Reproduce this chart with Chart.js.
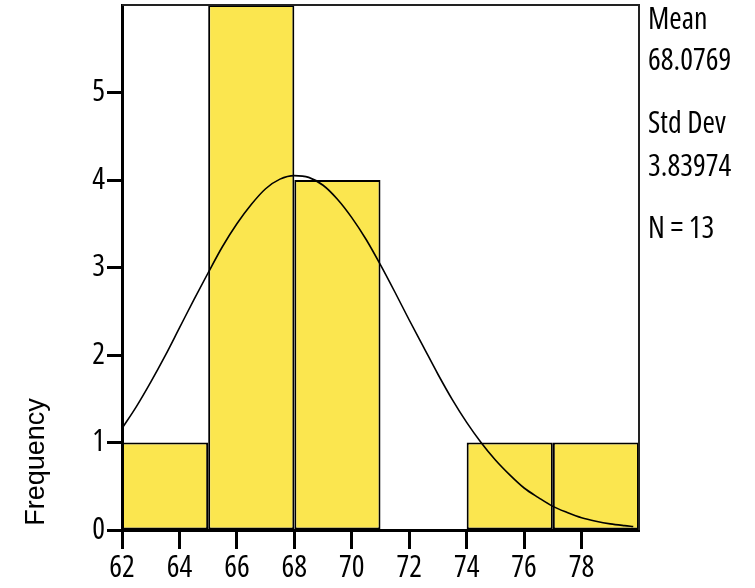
<!DOCTYPE html>
<html>
<head>
<meta charset="utf-8">
<script src="https://cdn.jsdelivr.net/npm/chart.js@4/dist/chart.umd.min.js"></script>
<style>
html,body{margin:0;padding:0;background:#fff;}
canvas{display:block;}
</style>
</head>
<body>
<canvas id="c" width="755" height="588"></canvas>
<script>
// ---- data ----
const binEdges = [62, 65, 68, 71, 74, 77, 80];
const binCounts = [1, 6, 4, 0, 1, 1];
const curveX = [62, 62.5, 63, 63.5, 64, 64.5, 65, 65.5, 66, 66.5, 67, 67.5, 68, 68.5, 69, 69.5, 70, 70.5, 71, 71.5, 72, 72.5, 73, 73.5, 74, 74.5, 75, 75.5, 76, 76.5, 77, 77.5, 78, 78.5, 79, 79.5, 79.8];
const curveY = [1.16, 1.41, 1.69, 1.99, 2.31, 2.63, 2.94, 3.24, 3.50, 3.72, 3.90, 4.01, 4.05, 4.03, 3.94, 3.78, 3.57, 3.32, 3.03, 2.72, 2.40, 2.09, 1.78, 1.49, 1.23, 1.00, 0.80, 0.63, 0.48, 0.37, 0.27, 0.20, 0.14, 0.10, 0.07, 0.05, 0.04];
const xTicks = [62, 64, 66, 68, 70, 72, 74, 76, 78];
const yTicks = [0, 1, 2, 3, 4, 5];
const statLabels = ["Mean", "68.0769", "Std Dev", "3.83974", "N = 13"];
const yTitle = "Frequency";

const barData = binCounts.map((c, i) => ({ x: (binEdges[i] + binEdges[i + 1]) / 2, y: c }));
const lineData = curveX.map((x, i) => ({ x: x, y: curveY[i] }));
const binWidth = binEdges[1] - binEdges[0];
const tickStep = xTicks[1] - xTicks[0];

const FAMILY = "'Open Sans', 'DejaVu Sans Condensed', sans-serif";
const TICKFONT = { family: FAMILY, size: 30, weight: 'condensed' };

const extras = {
  id: 'extras',
  afterDraw(chart) {
    const ctx = chart.ctx;
    const a = chart.chartArea;
    ctx.save();
    ctx.strokeStyle = '#222';
    ctx.lineWidth = 2;
    ctx.beginPath();
    ctx.moveTo(a.left, a.top);
    ctx.lineTo(a.right, a.top);
    ctx.lineTo(a.right, a.bottom);
    ctx.stroke();
    ctx.fillStyle = '#000';
    ctx.font = "condensed 30px " + FAMILY;
    ctx.textAlign = 'left';
    ctx.textBaseline = 'alphabetic';
    const baselines = [29, 70, 133, 176, 238];
    statLabels.forEach((t, i) => ctx.fillText(t, a.right + 9, baselines[i]));
    ctx.font = "27px 'Liberation Sans', Arial, sans-serif";
    ctx.translate(44, 462);
    ctx.rotate(-Math.PI / 2);
    ctx.textAlign = 'center';
    ctx.fillText(yTitle, 0, 0);
    ctx.restore();
  }
};

new Chart(document.getElementById('c'), {
  data: {
    datasets: [
      { type: 'line', data: lineData, borderColor: '#000', borderWidth: 1.6, pointRadius: 0, cubicInterpolationMode: 'monotone', order: 0 },
      { type: 'bar', data: barData, backgroundColor: '#fbe64f', borderColor: '#000', borderWidth: 2, borderSkipped: false,
        barPercentage: binWidth / tickStep, categoryPercentage: 1, order: 1 }
    ]
  },
  options: {
    responsive: false,
    animation: false,
    layout: { padding: { top: 5, right: 116, bottom: 0, left: 0 } },
    plugins: { legend: { display: false }, tooltip: { enabled: false } },
    scales: {
      x: {
        type: 'linear', min: 62, max: 80, offset: false,
        afterBuildTicks: s => { s.ticks = xTicks.map(v => ({ value: v })); },
        afterFit: s => { s.height = 58; s.paddingLeft = 0; s.paddingRight = 0; },
        ticks: { color: '#000', font: TICKFONT, padding: 1, maxRotation: 0, autoSkip: false },
        grid: { display: true, offset: false, drawOnChartArea: false, drawTicks: true, tickLength: 19, tickWidth: 3, tickColor: '#000' },
        border: { display: true, color: '#000', width: 3 }
      },
      y: {
        type: 'linear', min: 0, max: 6,
        afterBuildTicks: s => { s.ticks = yTicks.map(v => ({ value: v })); },
        afterFit: s => { s.width = 122; s.paddingTop = 0; s.paddingBottom = 0; },
        ticks: { color: '#000', font: TICKFONT, padding: 2 },
        grid: { display: true, drawOnChartArea: false, drawTicks: true, tickLength: 15, tickWidth: 3, tickColor: '#000' },
        border: { display: true, color: '#000', width: 3 }
      }
    }
  },
  plugins: [extras]
});
</script>
</body>
</html>
